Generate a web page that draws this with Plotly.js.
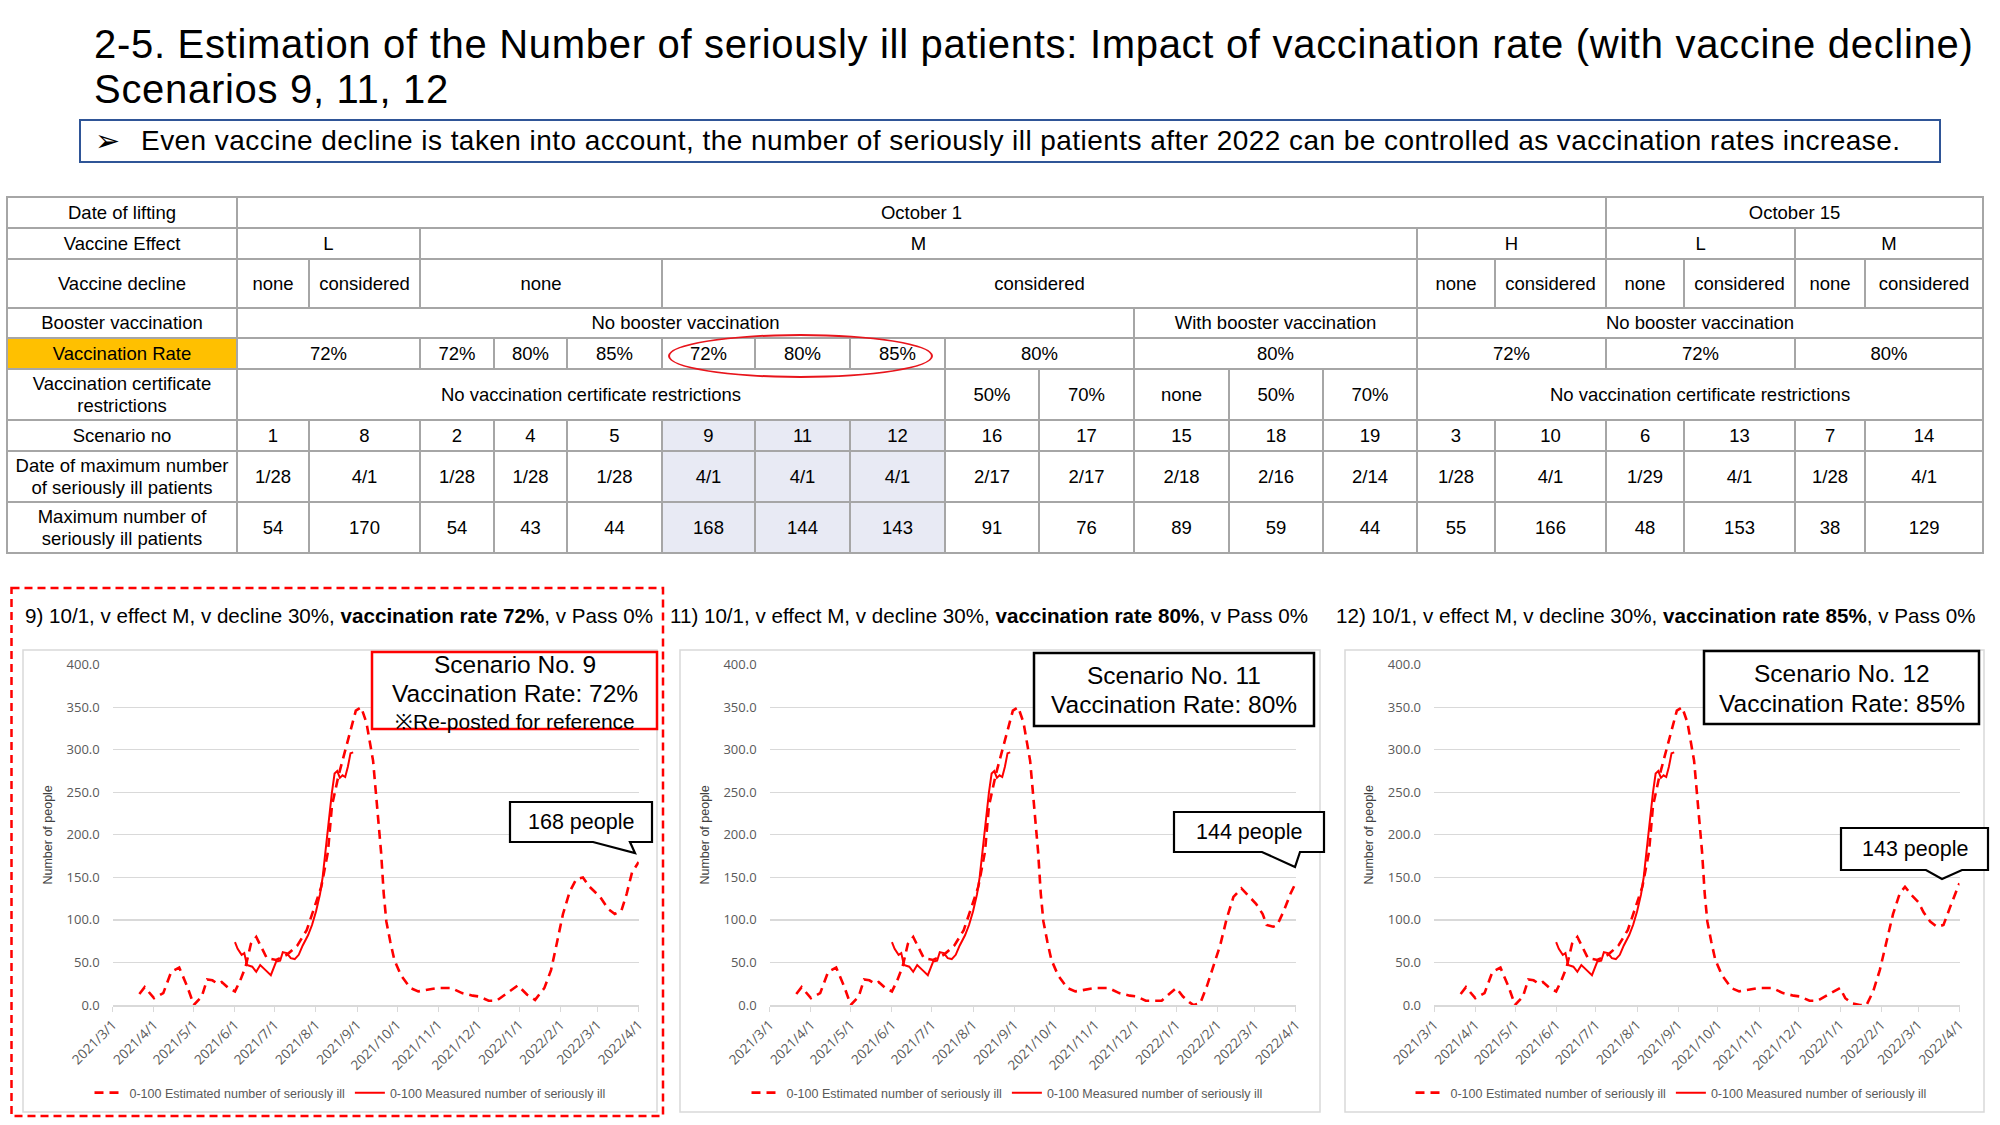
<!DOCTYPE html>
<html>
<head>
<meta charset="utf-8">
<script src="https://cdn.plot.ly/plotly-3.0.1.min.js"></script>
<style>
html,body{margin:0;padding:0;background:#fff;}
body{width:2000px;height:1125px;position:relative;overflow:hidden;font-family:"Liberation Sans",Arial,sans-serif;color:#000;}
#plot{position:absolute;left:0;top:0;width:2000px;height:1125px;z-index:1;}
#title{position:absolute;left:94px;top:22px;font-size:40px;line-height:45px;letter-spacing:0.7px;white-space:nowrap;z-index:2;}
#msg{position:absolute;left:79px;top:119px;width:1858px;height:40px;border:2px solid #2F5597;z-index:2;font-size:28px;line-height:39px;letter-spacing:0.45px;white-space:nowrap;}
#msg .arr{position:absolute;left:14px;top:0;font-family:"DejaVu Sans",sans-serif;font-size:30px;letter-spacing:0;}
#msg .txt{position:absolute;left:60px;top:0;}
#tbl{position:absolute;left:6px;top:196px;border-collapse:collapse;table-layout:fixed;z-index:2;font-size:18.5px;}
#tbl td{border:2px solid #A6A6A6;text-align:center;vertical-align:middle;padding:0;line-height:22px;white-space:nowrap;overflow:hidden;}
#tbl td.hl{background:#E8EAF4;}
#tbl td.rate{background:#FFC000;}
#ellipse{position:absolute;left:668px;top:334px;width:261px;height:40px;border:2px solid #E8141B;border-radius:50%;z-index:3;}
</style>
</head>
<body>
<div id="plot"></div>
<div id="title">2-5. Estimation of the Number of seriously ill patients: Impact of vaccination rate (with vaccine decline)<br>Scenarios 9, 11, 12</div>
<div id="msg"><span class="arr">&#10146;</span><span class="txt">Even vaccine decline is taken into account, the number of seriously ill patients after 2022 can be controlled as vaccination rates increase.</span></div>
<table id="tbl"></table>
<div id="ellipse"></div>
<script>
// ---------------- table data ----------------
const rowLabels = ["Date of lifting","Vaccine Effect","Vaccine decline","Booster vaccination","Vaccination Rate","Vaccination certificate<br>restrictions","Scenario no","Date of maximum number<br>of seriously ill patients","Maximum number of<br>seriously ill patients"];
const liftingRow = [["October 1",15],["October 15",4]];
const effectRow = [["L",2],["M",11],["H",2],["L",2],["M",2]];
const declineRow = [["none",1],["considered",1],["none",3],["considered",8],["none",1],["considered",1],["none",1],["considered",1],["none",1],["considered",1]];
const boosterRow = [["No booster vaccination",10],["With booster vaccination",3],["No booster vaccination",6]];
const rateRow = [["72%",2],["72%",1],["80%",1],["85%",1],["72%",1],["80%",1],["85%",1],["80%",2],["80%",3],["72%",2],["72%",2],["80%",2]];
const certRow = [["No vaccination certificate restrictions",8],["50%",1],["70%",1],["none",1],["50%",1],["70%",1],["No vaccination certificate restrictions",6]];
const scenarioNo = [1,8,2,4,5,9,11,12,16,17,15,18,19,3,10,6,13,7,14];
const peakDate = ["1/28","4/1","1/28","1/28","1/28","4/1","4/1","4/1","2/17","2/17","2/18","2/16","2/14","1/28","4/1","1/29","4/1","1/28","4/1"];
const peakValue = [54,170,54,43,44,168,144,143,91,76,89,59,44,55,166,48,153,38,129];
const highlighted = [9,11,12];

// ---------------- chart data ----------------
const estCommonDates = ['2021-03-21','2021-03-25','2021-04-01','2021-04-08','2021-04-14','2021-04-20','2021-04-26','2021-05-01','2021-05-07','2021-05-11','2021-05-15','2021-05-19','2021-05-22','2021-05-27','2021-06-01','2021-06-05','2021-06-09','2021-06-13','2021-06-17','2021-06-21','2021-06-25','2021-07-02','2021-07-10','2021-07-18','2021-07-25','2021-07-30','2021-08-05','2021-08-10','2021-08-13','2021-08-18','2021-08-23','2021-08-28','2021-08-31','2021-09-04','2021-09-08','2021-09-13','2021-09-16','2021-09-19','2021-09-21','2021-09-23','2021-09-26','2021-09-29','2021-10-04','2021-10-11','2021-10-17','2021-10-25','2021-11-01','2021-11-11','2021-11-19','2021-11-27','2021-12-02','2021-12-09','2021-12-15'];
const estCommonVals = [13,21,8,14,39,44,22,0,10,30,29,25,27,20,16,29,45,72,80,68,55,53,59,70,88,111,139,180,234,270,299,328,346,350,332,287,238,180,131,98,74,53,35,20,16,18,20,20,14,11,10,5,5];

const tail9Dates = ['2021-12-23','2021-12-31','2022-01-07','2022-01-13','2022-01-20','2022-01-25','2022-01-29','2022-02-03','2022-02-08','2022-02-13','2022-02-18','2022-02-23','2022-03-03','2022-03-09','2022-03-14','2022-03-19','2022-03-23','2022-03-27','2022-04-01'];
const tail9Vals = [14,23,12,6,20,41,70,107,133,148,150,139,127,113,107,111,131,156,168];
const tail11Dates = ['2021-12-21','2021-12-26','2022-01-01','2022-01-06','2022-01-11','2022-01-14','2022-01-19','2022-01-24','2022-01-29','2022-02-03','2022-02-08','2022-02-13','2022-02-19','2022-02-24','2022-03-02','2022-03-07','2022-03-10','2022-03-15','2022-03-18','2022-03-23','2022-03-28','2022-04-01'];
const tail11Vals = [5,12,20,10,3,0,2,22,45,70,102,127,137,129,119,107,94,92,94,111,131,144];
const tail12Dates = ['2021-12-23','2022-01-01','2022-01-05','2022-01-10','2022-01-16','2022-01-21','2022-01-26','2022-01-31','2022-02-05','2022-02-10','2022-02-15','2022-02-19','2022-02-24','2022-03-01','2022-03-05','2022-03-10','2022-03-15','2022-03-20','2022-03-25','2022-04-01'];
const tail12Vals = [12,20,8,2,0,0,16,41,74,107,131,139,129,121,109,98,92,94,115,143];

const measDates = ['2021-06-01','2021-06-03','2021-06-06','2021-06-08','2021-06-10','2021-06-14','2021-06-17','2021-06-20','2021-06-24','2021-06-28','2021-07-02','2021-07-05','2021-07-07','2021-07-10','2021-07-13','2021-07-16','2021-07-19','2021-07-22','2021-07-26','2021-07-29','2021-08-01','2021-08-04','2021-08-06','2021-08-09','2021-08-11','2021-08-13','2021-08-15','2021-08-17','2021-08-19','2021-08-21','2021-08-23','2021-08-25','2021-08-27','2021-08-29'];
const measVals = [74,66,59,61,47,45,39,47,41,35,51,52,62,61,55,54,59,70,82,94,110,130,150,195,225,250,272,275,267,270,268,280,296,297];

const panelTitles = ["9) 10/1, v effect M, v decline 30%, <b>vaccination rate 72%</b>, v Pass 0%","11) 10/1, v effect M, v decline 30%, <b>vaccination rate 80%</b>, v Pass 0%","12) 10/1, v effect M, v decline 30%, <b>vaccination rate 85%</b>, v Pass 0%"];
const scenarioLabels = ["Scenario No. 9","Scenario No. 11","Scenario No. 12"];
const rateLabels = ["Vaccination Rate: 72%","Vaccination Rate: 80%","Vaccination Rate: 85%"];
const calloutLabels = ["168 people","144 people","143 people"];
const estName = "0-100 Estimated number of seriously ill";
const measName = "0-100 Measured number of seriously ill";

// ---------------- build table ----------------
(function(){
  const colW = [230,72,111,74,73,95,93,95,95,94,95,95,94,94,78,111,78,111,70,118];
  const rowH = [31,31,49,30,31,51,31,51,51];
  const tbl = document.getElementById('tbl');
  let html = '<colgroup>' + colW.map(w=>'<col style="width:'+w+'px">').join('') + '</colgroup>';
  const spanRows = [liftingRow,effectRow,declineRow,boosterRow,rateRow,certRow];
  spanRows.forEach((r,i)=>{
    html += '<tr style="height:'+rowH[i]+'px"><td'+(i===4?' class="rate"':'')+'>'+rowLabels[i]+'</td>';
    r.forEach(c=>{ html += '<td colspan="'+c[1]+'">'+c[0]+'</td>'; });
    html += '</tr>';
  });
  const simple = [scenarioNo, peakDate, peakValue];
  simple.forEach((r,k)=>{
    const i = 6+k;
    html += '<tr style="height:'+rowH[i]+'px"><td>'+rowLabels[i]+'</td>';
    r.forEach((v,j)=>{ html += '<td'+(highlighted.includes(scenarioNo[j])?' class="hl"':'')+'>'+v+'</td>'; });
    html += '</tr>';
  });
  tbl.innerHTML = html;
  tbl.style.width = colW.reduce((a,b)=>a+b,0)+'px';
})();

// ---------------- charts ----------------
const W = 2000, H = 1125;
const PX = x => x / W;
const PY = y => 1 - y / H;

const tails = [[tail9Dates,tail9Vals],[tail11Dates,tail11Vals],[tail12Dates,tail12Vals]];
const plotX = [[112.7,638.8],[769.6,1296],[1434,1959.5]];
const plotY = [664.7,1005];
const chartArea = [[23,650,657,1112],[680,650,1320,1112],[1345,650,1984,1112]];
const titleX = [23,668,1334];
const legendX = [350,1007,1671];
const scenBox = [[372,652,657,729,'#FF0000'],[1034,653,1314,726,'#000000'],[1704,651,1979,724,'#000000']];
const scenLineY = [[664,693,721],[675,704],[673,703]];
const callBox = [[510,802,652,842,593,630,635,853],[1174,812,1324,852,1262,1300,1295,867],[1841,828,1988,870,1926,1962,1942,879]];

const traces = [];
const layout = {
  width: W, height: H,
  margin: {l:0,r:0,t:0,b:0},
  paper_bgcolor: 'rgba(0,0,0,0)',
  plot_bgcolor: 'rgba(0,0,0,0)',
  showlegend: true,
  hovermode: false,
  font: {family: 'Liberation Sans, Arial, sans-serif', color: '#000'},
  shapes: [],
  annotations: []
};

for (let i = 0; i < 3; i++) {
  const sfx = i === 0 ? '' : String(i+1);
  const xa = 'x' + sfx, ya = 'y' + sfx;
  const lg = 'legend' + sfx;
  traces.push({
    x: estCommonDates.concat(tails[i][0]),
    y: estCommonVals.concat(tails[i][1]),
    xaxis: xa, yaxis: ya, legend: lg,
    type: 'scatter', mode: 'lines', name: estName,
    line: {color: '#FF0000', width: 2.6, dash: '9px,6px'}
  });
  traces.push({
    x: measDates, y: measVals,
    xaxis: xa, yaxis: ya, legend: lg,
    type: 'scatter', mode: 'lines', name: measName,
    line: {color: '#FF0000', width: 2}
  });
  layout['xaxis' + sfx] = {
    domain: [PX(plotX[i][0]), PX(plotX[i][1])],
    anchor: ya,
    type: 'date',
    range: ['2021-02-28 22:00', '2022-04-01 02:00'],
    tick0: '2021-03-01', dtick: 'M1',
    tickformat: '%Y/%-m/%-d',
    tickangle: -45,
    tickfont: {family: 'Open Sans, sans-serif', size: 13.5, color: '#595959'},
    showgrid: false, zeroline: false,
    showline: true, linecolor: '#D9D9D9', linewidth: 1.5,
    ticks: 'outside', ticklen: 5, tickcolor: '#D9D9D9',
    fixedrange: true
  };
  layout['yaxis' + sfx] = {
    domain: [PY(plotY[1]), PY(plotY[0])],
    anchor: xa,
    range: [0, 400], dtick: 50,
    tickformat: '.1f',
    tickfont: {family: 'Open Sans, sans-serif', size: 13, color: '#595959'},
    showgrid: true, gridcolor: '#D9D9D9', gridwidth: 1.2,
    zeroline: false, showline: false,
    ticklabelstandoff: 12,
    title: {text: 'Number of people', font: {family: 'Liberation Sans, Arial, sans-serif', size: 12.5, color: '#404040'}, standoff: 11},
    fixedrange: true
  };
  layout[lg] = {
    orientation: 'h', x: PX(legendX[i]), xanchor: 'center', y: PY(1093), yanchor: 'middle',
    font: {family: 'Liberation Sans, Arial, sans-serif', size: 12.5, color: '#595959'},
    bgcolor: 'rgba(0,0,0,0)', itemwidth: 30, tracegroupgap: 0
  };
  // chart area border
  const ca = chartArea[i];
  layout.shapes.push({type:'rect', xref:'paper', yref:'paper', x0:PX(ca[0]), x1:PX(ca[2]), y0:PY(ca[1]), y1:PY(ca[3]), line:{color:'#D9D9D9', width:1.5}, layer:'below'});
  // panel title
  layout.annotations.push({xref:'paper', yref:'paper', x:PX(titleX[i]), y:PY(615), xanchor:'left', yanchor:'middle', showarrow:false, text: panelTitles[i], font:{size:20.6, color:'#000'}});
  // scenario box
  const sb = scenBox[i];
  layout.shapes.push({type:'rect', xref:'paper', yref:'paper', x0:PX(sb[0]), x1:PX(sb[2]), y0:PY(sb[1]), y1:PY(sb[3]), line:{color:sb[4], width:2.5}, fillcolor:'#FFFFFF', layer:'above'});
  const cx = PX((sb[0]+sb[2])/2);
  const lines = i === 0 ? [scenarioLabels[i], rateLabels[i], '※Re-posted for reference'] : [scenarioLabels[i], rateLabels[i]];
  lines.forEach((t,k)=>{
    layout.annotations.push({xref:'paper', yref:'paper', x:cx, y:PY(scenLineY[i][k]), xanchor:'center', yanchor:'middle', showarrow:false, text:t, font:{size: k===2 ? 21 : 24.5, color:'#000'}});
  });
  // callout
  const c = callBox[i];
  const path = 'M '+PX(c[0])+' '+PY(c[1])+' L '+PX(c[2])+' '+PY(c[1])+' L '+PX(c[2])+' '+PY(c[3])+' L '+PX(c[5])+' '+PY(c[3])+' L '+PX(c[6])+' '+PY(c[7])+' L '+PX(c[4])+' '+PY(c[3])+' L '+PX(c[0])+' '+PY(c[3])+' Z';
  layout.shapes.push({type:'path', xref:'paper', yref:'paper', path: path, line:{color:'#000', width:2.2}, fillcolor:'#FFFFFF', layer:'above'});
  layout.annotations.push({xref:'paper', yref:'paper', x:PX((c[0]+c[2])/2), y:PY((c[1]+c[3])/2), xanchor:'center', yanchor:'middle', showarrow:false, text: calloutLabels[i], font:{size:21.5, color:'#000'}});
}
// red dashed panel border around scenario 9
layout.shapes.push({type:'rect', xref:'paper', yref:'paper', x0:PX(11.5), x1:PX(663), y0:PY(588), y1:PY(1116), line:{color:'#FF0000', width:2.5, dash:'8px,5px'}, layer:'above'});

Plotly.newPlot('plot', traces, layout, {displayModeBar:false, staticPlot:true});
</script>
</body>
</html>
